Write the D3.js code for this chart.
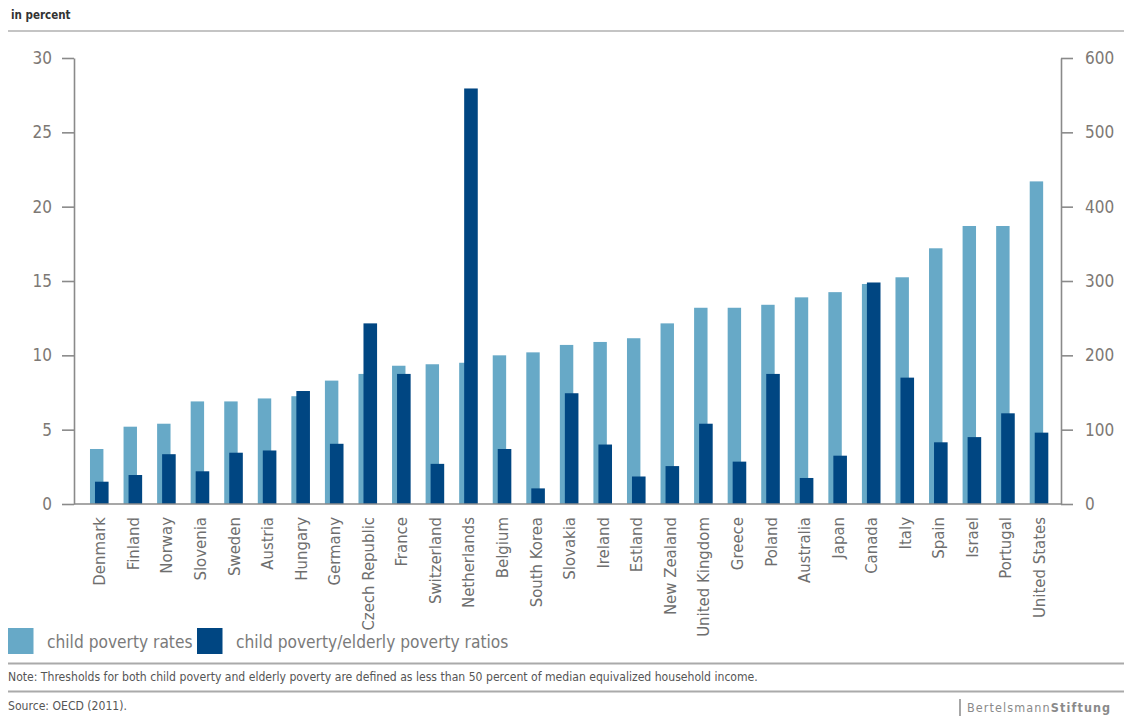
<!DOCTYPE html>
<html>
<head>
<meta charset="utf-8">
<script src="https://cdn.jsdelivr.net/npm/d3@7"></script>
<style>
  html, body { margin: 0; padding: 0; background: #fff; }
  svg { display: block; }
</style>
</head>
<body>
<svg id="chart" width="1124" height="716"></svg>
<script>
const categories = ["Denmark","Finland","Norway","Slovenia","Sweden","Austria","Hungary","Germany","Czech Republic","France","Switzerland","Netherlands","Belgium","South Korea","Slovakia","Ireland","Estland","New Zealand","United Kingdom","Greece","Poland","Australia","Japan","Canada","Italy","Spain","Israel","Portugal","United States"];
const childPovertyRates = [3.7,5.2,5.4,6.9,6.9,7.1,7.25,8.3,8.75,9.3,9.4,9.5,10.0,10.2,10.7,10.9,11.15,12.15,13.2,13.2,13.4,13.9,14.25,14.8,15.25,17.2,18.7,18.7,21.7];
const childElderlyRatios = [30,39,67,44,69,72,152,81,243,175,54,559,74,21,149,80,37,51,108,57,175,35,65,298,170,83,90,122,96];
const leftTicks = [0,5,10,15,20,25,30];
const rightTicks = [0,100,200,300,400,500,600];
const seriesNames = ["child poverty rates","child poverty/elderly poverty ratios"];
const colors = ["#67a9c7","#004682"];

(function () {
const FONT = "'Liberation Sans Narrow', 'DejaVu Sans Condensed', sans-serif";
const svg = d3.select("#chart");
const mLeft = 74, mRight = 1061, mTop = 58, mBottom = 504;

const x = d3.scaleBand().domain(categories).range([82.5, 1055.8]).paddingInner(0).paddingOuter(0);
const yL = d3.scaleLinear().domain([0,30]).range([mBottom, mTop]);
const yR = d3.scaleLinear().domain([0,600]).range([mBottom, mTop]);
const bw = x.bandwidth();

// header
svg.append("text").attr("x", 11).attr("y", 19)
  .attr("font-family", FONT)
  .attr("font-weight", "bold").attr("font-size", 11.5).attr("fill", "#333")
  .text("in percent");
svg.append("line").attr("x1", 8).attr("x2", 1124).attr("y1", 31).attr("y2", 31)
  .attr("stroke", "#c4c4c4").attr("stroke-width", 2);

// bars
const g = svg.append("g");
g.selectAll("rect.light").data(categories).join("rect")
  .attr("class","light")
  .attr("x", d => x(d) + bw*0.223)
  .attr("width", bw*0.40)
  .attr("y", (d,i) => yL(childPovertyRates[i]))
  .attr("height", (d,i) => mBottom - yL(childPovertyRates[i]))
  .attr("fill", colors[0]);
g.selectAll("rect.dark").data(categories).join("rect")
  .attr("class","dark")
  .attr("x", d => x(d) + bw*0.372)
  .attr("width", bw*0.405)
  .attr("y", (d,i) => yR(childElderlyRatios[i]))
  .attr("height", (d,i) => mBottom - yR(childElderlyRatios[i]))
  .attr("fill", colors[1]);

// axes
const axisColor = "#8a8a8a";
const tickColor = "#7d7874";
const gl = svg.append("g").attr("transform", `translate(${mLeft},0)`)
  .call(d3.axisLeft(yL).tickValues(leftTicks).tickSize(12).tickPadding(10).tickSizeOuter(0));
const gr = svg.append("g").attr("transform", `translate(${mRight},0)`)
  .call(d3.axisRight(yR).tickValues(rightTicks).tickSize(12).tickPadding(12).tickSizeOuter(0));
[gl, gr].forEach(a => {
  a.select(".domain").attr("stroke", axisColor).attr("stroke-width", 1.6);
  a.selectAll(".tick line").attr("stroke", axisColor).attr("stroke-width", 1.6);
  a.selectAll(".tick text").attr("font-size", 17).attr("fill", tickColor)
    .attr("font-family", FONT);
});
svg.append("line").attr("x1", mLeft).attr("x2", mRight).attr("y1", mBottom).attr("y2", mBottom)
  .attr("stroke", axisColor).attr("stroke-width", 1.6);

// category labels
svg.append("g").selectAll("text").data(categories).join("text")
  .attr("transform", d => `translate(${x(d) + bw/2},517) rotate(-90)`)
  .attr("text-anchor", "end").attr("dy", "0.36em")
  .attr("font-family", FONT)
  .attr("font-size", 16.6).attr("fill", "#6e6e6e")
  .text(d => d);

// legend
const legendX = [8, 197];
seriesNames.forEach((name, i) => {
  svg.append("rect").attr("x", legendX[i]).attr("y", 628).attr("width", 25.5).attr("height", 26)
    .attr("fill", colors[i]);
  svg.append("text").attr("x", legendX[i] + 39).attr("y", 648)
    .attr("font-family", FONT)
    .attr("font-size", 17.2).attr("fill", "#7a7a7a").text(name);
});

// footer
svg.append("line").attr("x1", 8).attr("x2", 1124).attr("y1", 663.5).attr("y2", 663.5)
  .attr("stroke", "#aaaaaa").attr("stroke-width", 2);
svg.append("text").attr("x", 8).attr("y", 681)
  .attr("font-family", FONT)
  .attr("font-size", 12.1).attr("fill", "#555")
  .text("Note: Thresholds for both child poverty and elderly poverty are defined as less than 50 percent of median equivalized household income.");
svg.append("line").attr("x1", 8).attr("x2", 1124).attr("y1", 691.5).attr("y2", 691.5)
  .attr("stroke", "#aaaaaa").attr("stroke-width", 2);
svg.append("text").attr("x", 8).attr("y", 710)
  .attr("font-family", FONT)
  .attr("font-size", 12.1).attr("fill", "#555")
  .text("Source: OECD (2011).");
svg.append("line").attr("x1", 960).attr("x2", 960).attr("y1", 699).attr("y2", 716)
  .attr("stroke", "#777").attr("stroke-width", 1.3);
const bt = svg.append("text").attr("x", 967).attr("y", 712)
  .attr("font-family", FONT)
  .attr("font-size", 12.5).attr("fill", "#8a8a8a").attr("letter-spacing", 1.1);
bt.append("tspan").text("Bertelsmann");
bt.append("tspan").attr("font-weight", "bold").text("Stiftung");
})();
</script>
</body>
</html>
